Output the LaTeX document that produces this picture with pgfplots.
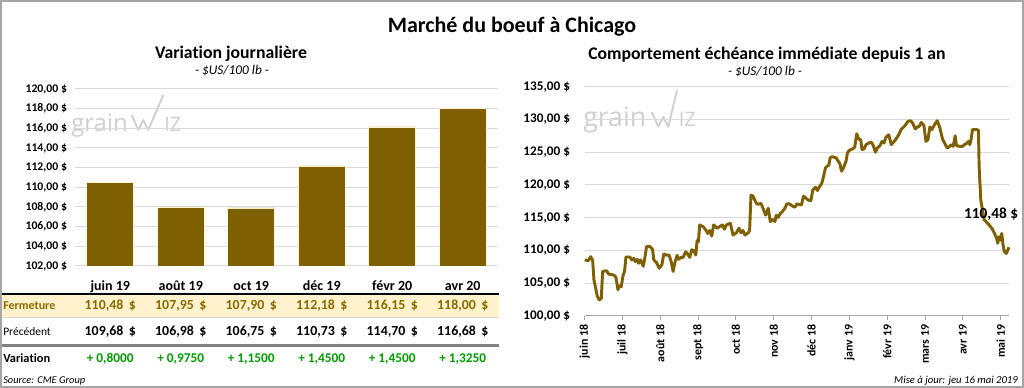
\documentclass[border=0pt]{standalone}
\usepackage{fontspec}
\setmainfont{Carlito}[Ligatures=NoCommon]
\newfontfamily\logofont{Open Sans}
\usepackage{pgfplots}
\usepackage{pgfplotstable}
\pgfplotsset{compat=1.18}
\definecolor{gold}{HTML}{7F6000}
\definecolor{gridc}{HTML}{D9D9D9}
\definecolor{fermbg}{HTML}{FFF2CC}
\definecolor{fermtxt}{HTML}{8A6A00}
\definecolor{vgreen}{HTML}{009A00}
\definecolor{wm}{HTML}{CFCFCF}
\definecolor{framec}{HTML}{A6A6A6}
\pgfplotstableread{
m v
0.000 108.55
0.097 108.45
0.158 109.05
0.211 108.50
0.246 105.50
0.334 103.00
0.387 102.45
0.440 102.70
0.475 106.80
0.580 106.90
0.633 106.40
0.774 106.25
0.827 105.90
0.880 104.00
0.915 104.60
0.967 104.50
1.020 106.30
1.055 106.80
1.091 109.00
1.196 109.00
1.249 108.55
1.302 108.80
1.337 108.30
1.390 108.65
1.425 108.05
1.478 108.55
1.548 107.60
1.583 108.55
1.636 110.60
1.724 110.60
1.794 110.20
1.829 108.55
1.900 108.15
1.970 107.30
2.040 107.80
2.093 109.45
2.164 109.30
2.234 109.30
2.287 108.30
2.339 106.80
2.392 108.30
2.445 109.25
2.480 108.65
2.551 108.95
2.603 108.95
2.674 109.80
2.726 109.45
2.779 108.95
2.832 110.10
2.885 110.00
2.938 109.30
2.973 111.50
3.008 111.35
3.043 113.90
3.131 113.65
3.201 113.15
3.254 112.60
3.307 113.05
3.360 112.20
3.412 113.90
3.500 113.40
3.571 113.65
3.641 113.90
3.694 113.25
3.747 113.90
3.852 114.15
3.923 112.35
4.011 112.70
4.081 113.40
4.134 112.70
4.186 113.05
4.239 112.35
4.327 112.70
4.362 113.05
4.398 118.45
4.450 118.30
4.538 117.20
4.591 117.05
4.661 117.20
4.732 116.20
4.785 115.40
4.855 116.45
4.908 114.40
4.978 114.75
5.031 114.40
5.066 115.40
5.119 115.05
5.172 115.65
5.224 115.90
5.295 116.45
5.347 117.10
5.418 117.10
5.488 116.80
5.558 116.60
5.611 117.10
5.734 116.95
5.787 118.30
5.858 117.95
5.910 117.70
5.981 117.60
6.033 119.25
6.104 119.65
6.157 119.15
6.209 119.75
6.262 120.15
6.297 120.80
6.368 122.60
6.420 122.90
6.456 123.00
6.491 124.15
6.544 124.30
6.649 124.15
6.702 123.65
6.755 123.15
6.790 122.10
6.843 122.60
6.913 123.65
6.948 124.90
7.001 125.30
7.089 125.50
7.142 125.80
7.194 127.80
7.247 127.00
7.300 126.90
7.335 125.40
7.388 125.50
7.441 126.15
7.511 126.40
7.581 126.50
7.634 126.00
7.687 125.00
7.740 125.65
7.810 126.00
7.863 126.65
7.916 126.40
7.968 127.30
8.039 127.65
8.109 126.15
8.162 126.50
8.232 127.00
8.303 127.65
8.373 128.50
8.461 129.00
8.549 129.70
8.619 129.80
8.672 129.45
8.742 128.55
8.795 128.85
8.848 128.95
8.901 129.55
8.971 129.05
9.024 126.65
9.077 126.90
9.129 128.85
9.182 128.45
9.252 129.20
9.323 129.80
9.393 128.70
9.463 127.00
9.516 126.40
9.587 125.65
9.639 125.80
9.692 126.15
9.745 125.90
9.798 127.50
9.833 126.00
9.903 125.90
9.991 125.90
10.044 126.15
10.114 126.40
10.149 126.65
10.185 126.15
10.220 127.00
10.255 128.45
10.361 128.45
10.413 128.35
10.431 122.80
10.475 117.70
10.563 114.70
10.695 113.90
10.783 113.25
10.836 112.60
10.888 112.00
10.923 111.10
10.959 112.10
10.994 111.60
11.029 112.60
11.064 110.85
11.099 109.80
11.152 109.55
11.187 110.05
11.222 110.48
}\linedata
\begin{document}
\begin{tikzpicture}
\useasboundingbox (0,0) rectangle (768pt,291pt);
\fill[white] (0,0) rectangle (768pt,291pt);
\begin{scope}[x=0.75pt,y=0.75pt]
% ---------- titles ----------
\node[anchor=base] at (512,{388-33}) {\fontsize{16.5}{18}\selectfont\bfseries Marché du boeuf à Chicago};
\node[anchor=base] at (231,{388-58.3}) {\fontsize{13.3}{15}\selectfont\bfseries Variation journalière};
\node[anchor=base] at (232,{388-75}) {\fontsize{10}{12}\selectfont\itshape - \$US/100 lb -};
\node[anchor=base] at (767,{388-59.3}) {\fontsize{13.3}{15}\selectfont\bfseries Comportement échéance immédiate depuis 1 an};
\node[anchor=base] at (765,{388-76}) {\fontsize{10}{12}\selectfont\itshape - \$US/100 lb -};

% ---------- watermarks ----------
\node[anchor=base west, inner sep=0, text=wm] at (71,{388-131.7}) {\logofont\fontsize{18}{20}\selectfont grain};
\draw[wm, line width=1.4pt, line join=round] (131.7,{388-115}) -- (138.3,{388-130}) -- (143.3,{388-120}) -- (148.3,{388-130}) -- (163.3,{388-95});
\node[anchor=base west, inner sep=0, text=wm] at (164,{388-131.7}) {\logofont\fontsize{15}{17}\selectfont IZ};
\node[anchor=base west, inner sep=0, text=wm] at (583,{388-126.7}) {\logofont\fontsize{20}{22}\selectfont grain};
\draw[wm, line width=1.4pt, line join=round] (651.7,{388-112}) -- (658.3,{388-126.7}) -- (663.3,{388-117}) -- (668.3,{388-126.7}) -- (677,{388-90});
\node[anchor=base west, inner sep=0, text=wm] at (678.5,{388-126.7}) {\logofont\fontsize{15}{17}\selectfont IZ};

% ---------- table ----------
\fill[fermbg] (0,{388-295}) rectangle (499,{388-317});
\draw[black, line width=1.5pt] (0,{388-294}) -- (499,{388-294});
\draw[gridc, line width=0.6pt] (0,{388-317.5}) -- (499,{388-317.5});
\draw[gray, line width=1.6pt] (0,{388-345.5}) -- (499,{388-345.5});

\node[anchor=base west, inner sep=0, text=fermtxt] at (3,{388-310}) {\fontsize{9}{11}\selectfont\bfseries Fermeture};
\node[anchor=base west, inner sep=0] at (3,{388-336}) {\fontsize{8.6}{10}\selectfont Précédent};
\node[anchor=base west, inner sep=0] at (3,{388-362.7}) {\fontsize{9.3}{11}\selectfont\bfseries Variation};

\foreach \v [count=\i from 0] in {{110,48},{107,95},{107,90},{112,18},{116,15},{118,00}}{
  \node[anchor=base, inner sep=0, text=fermtxt] at ({110.25+70.5*\i},{388-310}) {\fontsize{10.4}{12}\selectfont\bfseries \v\hspace{4pt}\$};
}
\foreach \v [count=\i from 0] in {{109,68},{106,98},{106,75},{110,73},{114,70},{116,68}}{
  \node[anchor=base, inner sep=0] at ({110.25+70.5*\i},{388-336}) {\fontsize{10.4}{12}\selectfont\bfseries \v\hspace{4pt}\$};
}
\foreach \v [count=\i from 0] in {{0,8000},{0,9750},{1,1500},{1,4500},{1,4500},{1,3250}}{
  \node[anchor=base, inner sep=0, text=vgreen] at ({110.25+70.5*\i},{388-362.7}) {\fontsize{10}{12}\selectfont\bfseries + \v};
}
\node[anchor=base west, inner sep=0] at (3,{388-384}) {\fontsize{7.8}{9}\selectfont\itshape Source: CME Group};
\node[anchor=base east, inner sep=0] at (1018,{388-383.3}) {\fontsize{8}{9}\selectfont\itshape Mise à jour: jeu 16 mai 2019};
\end{scope}

% ---------- left bar chart ----------
\begin{axis}[
  at={(56.25pt,91.5pt)}, anchor=south west,
  width=317.25pt, height=132.75pt, scale only axis,
  xmin=-0.5, xmax=5.5, ymin=102, ymax=120,
  axis line style={draw=none},
  major tick length=0pt,
  ymajorgrids, grid style={gridc, line width=0.75pt},
  ytick={102,104,...,120},
  yticklabel={\pgfmathprintnumber[fixed,fixed zerofill,precision=2,use comma,assume math mode=true]{\tick}~\$},
  yticklabel style={font=\fontsize{8.8}{10}\selectfont\bfseries, xshift=-2.5pt},
  xtick={0,...,5},
  xticklabels={juin 19,août 19,oct 19,déc 19,févr 20,avr 20},
  xticklabel style={font=\fontsize{10.5}{12}\selectfont\bfseries, anchor=base, yshift=-18.5pt},
  /pgf/number format/assume math mode=true,
  ybar, bar width=35.25pt,
]
\addplot[fill=gold, draw=fermbg, line width=0.5pt] coordinates {(0,110.48) (1,107.95) (2,107.90) (3,112.18) (4,116.15) (5,118.00)};
\end{axis}

% ---------- right line chart ----------
\begin{axis}[
  at={(438.5pt,54pt)}, anchor=south west,
  width=318.5pt, height=172pt, scale only axis,
  xmin=0, xmax=11.23, ymin=100, ymax=135,
  clip=false,
  axis line style={draw=none},
  xtick pos=bottom, ytick pos=left,
  ymajorgrids, grid style={gridc, line width=0.75pt},
  ytick={100,105,...,135},
  ytick style={draw=none},
  yticklabel={\pgfmathprintnumber[fixed,fixed zerofill,precision=2,use comma,assume math mode=true]{\tick}~\$},
  yticklabel style={font=\fontsize{9.9}{11}\selectfont\bfseries, xshift=-4.5pt},
  xtick={0,...,11},
  xticklabels={juin 18,juil 18,août 18,sept 18,oct 18,nov 18,déc 18,janv 19,févr 19,mars 19,avr 19,mai 19},
  xticklabel style={font=\fontsize{8.9}{10}\selectfont\bfseries, rotate=90, anchor=east},
  xtick style={gray!70, line width=0.75pt},
  tick align=outside, major tick length=3pt,
  /pgf/number format/assume math mode=true,
]
\draw[gray!70, line width=0.75pt] (axis cs:0,100) -- (axis cs:11.23,100);
\addplot[gold, line width=2.2pt, line join=round, mark=none] table[x=m, y=v] {\linedata};
\node[font=\fontsize{11.5}{13}\selectfont\bfseries] at (axis cs:10.75,115.6) {110,48~\$};
\end{axis}

% ---------- frame ----------
\draw[framec, line width=1.2pt] (0.6pt,0.6pt) rectangle (767.4pt,290.4pt);
\end{tikzpicture}
\end{document}
